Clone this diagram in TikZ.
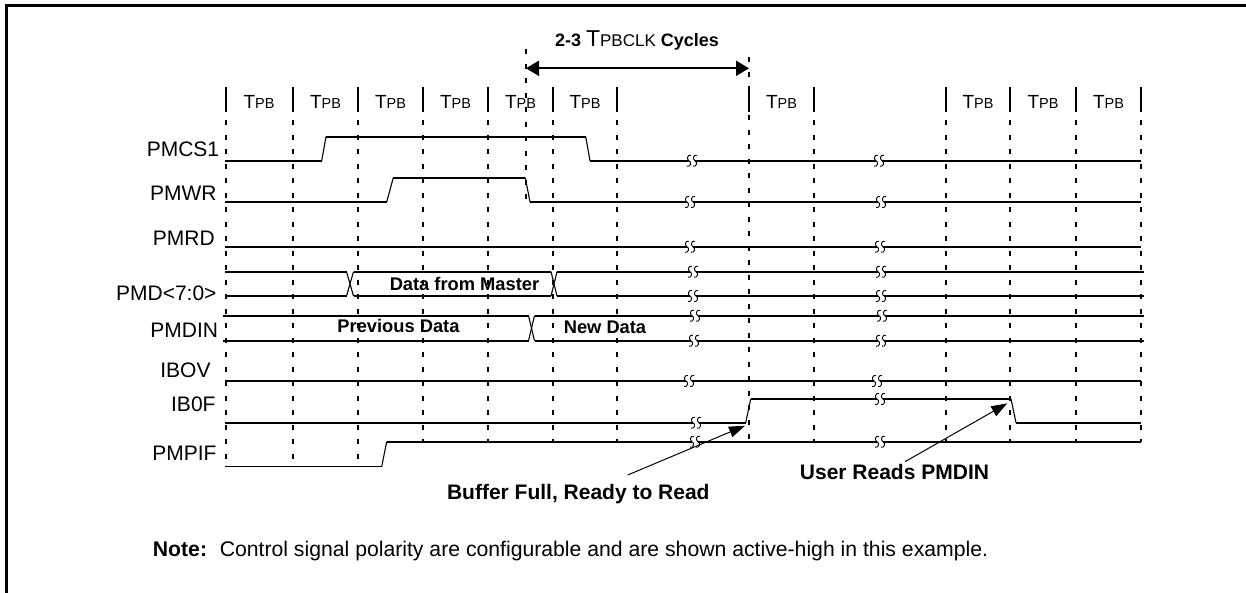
\documentclass[tikz,border=0pt]{standalone}
\usepackage{fontspec}
\setmainfont{Liberation Sans}
\usetikzlibrary{arrows.meta}
\newcommand{\tpbtxt}{{\fontsize{19}{19}\selectfont T}{\fontsize{14.5}{14.5}\selectfont PB}}
\begin{document}
\begin{tikzpicture}[x=1pt,y=-1pt,
  sig/.style={line width=1.8pt},
  edg/.style={line width=1.1pt},
  gridln/.style={line width=2pt, dash pattern=on 5pt off 9.5pt},
  tickbar/.style={line width=2pt},
  lbl/.style={anchor=base east, inner sep=0pt, font=\fontsize{21}{21}\selectfont},
  bustxt/.style={anchor=base, inner sep=0pt, font=\bfseries\fontsize{18.3}{18.3}\selectfont},
  anntxt/.style={anchor=base, inner sep=0pt, font=\bfseries\fontsize{21}{21}\selectfont},
  tpbl/.style={anchor=base, inner sep=0pt},
  annarrow/.style={line width=1pt, -{Triangle[length=16pt,width=11pt]}},
  squig/.pic={
    \fill[white] (-3.3,-2) rectangle (3.3,2);
    \draw[line width=0.9pt] (-1,-5.5) .. controls (-5,-6.5) and (-5.5,-1) .. (-3,0) .. controls (-0.5,1) and (-1,6.5) .. (-5,5.5);
    \draw[line width=0.9pt] (5,-5.5) .. controls (1,-6.5) and (0.5,-1) .. (3,0) .. controls (5.5,1) and (5,6.5) .. (1,5.5);
  }
  ]
\useasboundingbox (0,0) rectangle (1246,592);
% frame
\draw[line width=2.5pt] (6.7,600) -- (6.7,5.3) -- (1250,5.3);

% header
\node[anchor=base, inner sep=0pt] (hdr) at (637,46.7) {{\fontsize{18}{18}\selectfont\bfseries 2-3 }{\fontsize{23}{23}\selectfont T}{\fontsize{17}{17}\selectfont PBCLK}{\fontsize{18}{18}\selectfont\bfseries\ Cycles}};
\draw[gridln] (526,49) -- (526,202);
\coordinate (cL) at (526,68.3);
\coordinate (cR) at (749,68.3);
\draw[line width=2pt, {Triangle[length=13pt,width=15pt]}-{Triangle[length=13pt,width=15pt]}] (cL) -- (cR);

% tick bars and TPB labels
\foreach \x in {225.5,292.5,358,423,488,553,617,749,814,946,1010,1076,1141}
  \draw[tickbar] (\x,87) -- (\x,112);
\foreach \x/\n in {259/t1,325.5/t2,390.5/t3,455.5/t4,520.5/t5,585/t6,781.5/t7,978/t8,1043/t9,1108.5/t10}
  \node[tpbl] (\n) at (\x,108.3) {\tpbtxt};

% grid
\foreach \x in {225.5,292.5,358}
  \draw[gridln] (\x,120) -- (\x,466);
\foreach \x in {423,488,553,617,814,946,1010,1076,1141}
  \draw[gridln] (\x,120) -- (\x,442);
\draw[gridln] (749,57) -- (749,442);

% labels
\node[lbl] (lcs) at (219.3,156.3) {PMCS1};
\node[lbl] (lwr) at (216.7,200) {PMWR};
\node[lbl] (lrd) at (215,245) {PMRD};
\node[lbl] (lpmd) at (216.7,300) {PMD<7:0>};
\node[lbl] (ldin) at (218.3,337) {PMDIN};
\node[lbl] (libov) at (210.7,377.5) {IBOV};
\node[lbl] (libf) at (215.7,411.5) {IB0F};
\node[lbl] (lif) at (216.7,460) {PMPIF};

% PMCS1
\draw[sig] (225,160.7) -- (321.7,160.7);
\draw[edg] (321.7,160.7) -- (326,136.7);
\draw[sig] (326,136.7) -- (585.7,136.7);
\draw[edg] (585.7,136.7) -- (590,160.7);
\draw[sig] (590,160.7) -- (1141,160.7);
\pic at (692,160.7) {squig};
\pic at (879,160.7) {squig};

% PMWR
\draw[sig] (225,202) -- (386.7,202);
\draw[edg] (386.7,202) -- (393.3,177.7);
\draw[sig] (393.3,177.7) -- (525.3,177.7);
\draw[edg] (525.3,177.7) -- (530,202);
\draw[sig] (530,202) -- (1141,202);
\pic at (690,202) {squig};
\pic at (881,202) {squig};

% PMRD
\draw[sig] (225,246.7) -- (1141,246.7);
\pic at (690,246.7) {squig};
\pic at (880,246.7) {squig};

% PMD<7:0>
\draw[sig] (225,271.7) -- (346.5,271.7);
\draw[sig] (225,296) -- (346.5,296);
\draw[edg] (346.5,271.7) -- (353.5,296);
\draw[edg] (346.5,296) -- (353.5,271.7);
\draw[sig] (353.5,271.7) -- (551,271.7);
\draw[sig] (353.5,296) -- (551,296);
\draw[edg] (551,271.7) -- (557,296);
\draw[edg] (551,296) -- (557,271.7);
\draw[sig] (557,271.7) -- (1144,271.7);
\draw[sig] (557,296) -- (1144,296);
\pic at (693,271.7) {squig};
\pic at (693,296) {squig};
\pic at (881,271.7) {squig};
\pic at (881,296) {squig};
\node[bustxt] (dfm) at (464.5,290) {Data from Master};

% PMDIN
\draw[sig] (222.7,315.7) -- (528.5,315.7);
\draw[sig] (222.7,340.7) -- (528.5,340.7);
\draw[edg] (528.5,315.7) -- (534.5,340.7);
\draw[edg] (528.5,340.7) -- (534.5,315.7);
\draw[sig] (534.5,315.7) -- (1144,315.7);
\draw[sig] (534.5,340.7) -- (1144,340.7);
\pic at (695,315.7) {squig};
\pic at (694,340.7) {squig};
\pic at (882,315.7) {squig};
\pic at (881,340.7) {squig};
\node[bustxt] (prev) at (398.5,332.7) {Previous Data};
\node[bustxt] (newd) at (605,333.3) {New Data};

% IBOV
\draw[sig] (225,381) -- (1141,381);
\pic at (689,381) {squig};
\pic at (877,381) {squig};

% IB0F
\draw[sig] (225,422.7) -- (745.7,422.7);
\draw[edg] (745.7,422.7) -- (750.7,399);
\draw[sig] (750.7,399) -- (1011,399);
\draw[edg] (1011,399) -- (1016,422.7);
\draw[sig] (1016,422.7) -- (1141,422.7);
\pic at (696,422.7) {squig};
\pic at (880,399) {squig};

% PMPIF
\draw[sig] (225,466.5) -- (381.7,466.5);
\draw[edg] (381.7,466.5) -- (386.7,441.7);
\draw[sig] (386.7,441.7) -- (1141,441.7);
\pic at (695,441.7) {squig};
\pic at (880,441.7) {squig};

% annotations
\node[anntxt] (buf) at (578.3,499.3) {Buffer Full, Ready to Read};
\coordinate (bufT) at (627.7,475);
\coordinate (bufH) at (745,425.7);
\draw[annarrow] (bufT) -- (bufH);
\node[anntxt] (usr) at (894.5,479) {User Reads PMDIN};
\coordinate (usrT) at (905,461.7);
\coordinate (usrH) at (1007.3,403.3);
\draw[annarrow] (usrT) -- (usrH);

% note
\node[anchor=base west, inner sep=0pt, font=\fontsize{21.2}{21.2}\selectfont] (note) at (152.7,556) {\textbf{Note:}\hspace{0.6em}Control signal polarity are configurable and are shown active-high in this example.};
\end{tikzpicture}
\end{document}
